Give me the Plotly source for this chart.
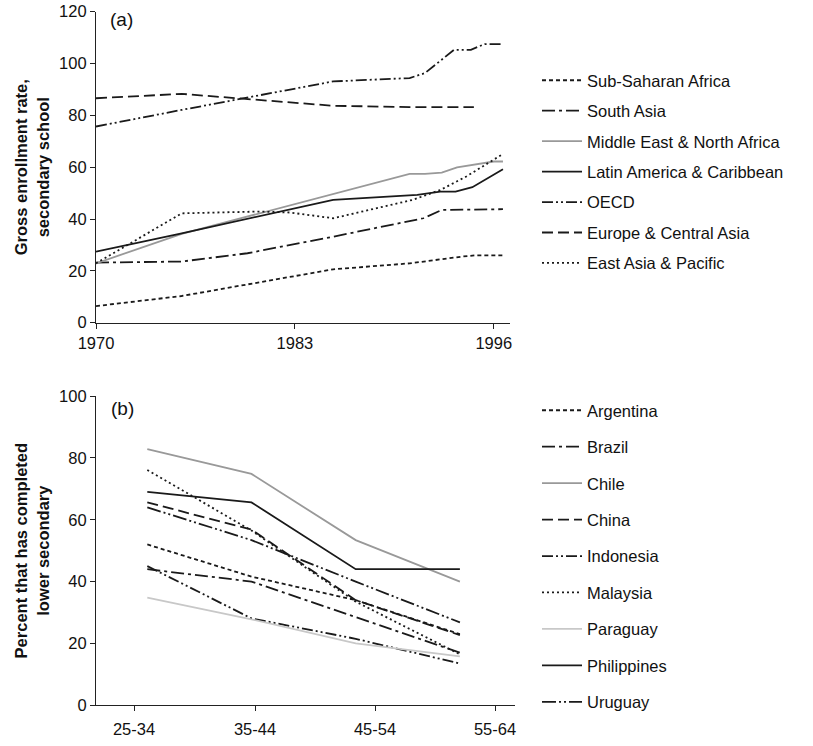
import plotly.graph_objects as go

# ---------------- Panel (a) data ----------------
regions = ["Sub-Saharan Africa", "South Asia", "Middle East & North Africa",
           "Latin America & Caribbean", "OECD", "Europe & Central Asia",
           "East Asia & Pacific"]

ssa_x = [1970, 1975.6, 1985.5, 1990.5, 1993.9, 1994.8, 1996.6]
ssa_y = [6.4, 10.3, 20.6, 22.9, 25.5, 26.0, 26.0]
sa_x = [1970, 1975.6, 1979.9, 1985.5, 1991.4, 1992.6, 1996.6]
sa_y = [23.2, 23.6, 26.8, 33.2, 40.3, 43.5, 43.8]
mena_x = [1970, 1975.6, 1990.5, 1991.5, 1992.6, 1993.6, 1996.0, 1996.6]
mena_y = [22.9, 34.3, 57.4, 57.4, 57.9, 59.9, 62.2, 62.2]
lac_x = [1970, 1975.6, 1985.5, 1991.0, 1992.5, 1993.5, 1994.6, 1996.6]
lac_y = [27.4, 34.5, 47.4, 49.3, 50.6, 50.6, 52.3, 59.2]
oecd_x = [1970, 1975.6, 1985.5, 1990.5, 1991.5, 1993.4, 1994.5, 1995.4, 1996.6]
oecd_y = [75.7, 82.1, 93.1, 94.4, 96.3, 105.3, 105.3, 107.5, 107.5]
eca_x = [1970, 1975.6, 1985.5, 1990.5, 1994.7]
eca_y = [86.6, 88.3, 83.7, 83.2, 83.2]
eap_x = [1970, 1975.6, 1980.7, 1982.7, 1985.5, 1990.7, 1992.5, 1994.2, 1996.6]
eap_y = [22.9, 42.2, 42.9, 42.5, 40.3, 47.4, 51.2, 56.4, 65.1]

top_years = [1970, 1983, 1996]

# ---------------- Panel (b) data ----------------
age_groups = ["25-34", "35-44", "45-54", "55-64"]
countries = ["Argentina", "Brazil", "Chile", "China", "Indonesia",
             "Malaysia", "Paraguay", "Philippines", "Uruguay"]
argentina = [52, 41.6, 34, 23]
brazil = [44, 40, 28.5, 17]
chile = [82.8, 74.8, 53.4, 40]
china = [65.6, 56.8, 34, 22.7]
indonesia = [45, 28.1, 21.5, 13.5]
malaysia = [76.1, 56.5, 33.5, 16.5]
paraguay = [34.8, 27.8, 20, 15.8]
philippines = [69, 65.6, 44, 44]
uruguay = [64, 53.4, 40, 26.8]

FONT = "Liberation Sans, Arial, sans-serif"
BLACK = "#1a1a1a"
GRAY = "#999999"
LIGHT = "#c8c8c8"

SHORT = "4px,3px"
LONGDASH = "11px,5px"
DASHDOT = "13px,4px,3px,4px"
DASHDOTDOT = "11px,3px,2px,3px,2px,3px"
DOT = "2px,3px"

top_series = [
    (ssa_x, ssa_y, BLACK, SHORT),
    (sa_x, sa_y, BLACK, DASHDOT),
    (mena_x, mena_y, GRAY, "solid"),
    (lac_x, lac_y, BLACK, "solid"),
    (oecd_x, oecd_y, BLACK, DASHDOTDOT),
    (eca_x, eca_y, BLACK, LONGDASH),
    (eap_x, eap_y, BLACK, DOT),
]

bottom_series = [
    (argentina, BLACK, SHORT),
    (brazil, BLACK, DASHDOT),
    (chile, GRAY, "solid"),
    (china, BLACK, LONGDASH),
    (indonesia, BLACK, DASHDOTDOT),
    (malaysia, BLACK, DOT),
    (paraguay, LIGHT, "solid"),
    (philippines, BLACK, "solid"),
    (uruguay, BLACK, "14px,3px,2px,3px,2px,3px"),
]

fig = go.Figure()

for name, (xs, ys, col, dash) in zip(regions, top_series):
    fig.add_trace(go.Scatter(
        x=xs, y=ys, mode="lines", name=name,
        line=dict(color=col, width=1.8, dash=dash),
        xaxis="x", yaxis="y", legend="legend", legendgroup=name))

age_idx = list(range(len(age_groups)))
for name, (vals, col, dash) in zip(countries, bottom_series):
    fig.add_trace(go.Scatter(
        x=age_idx, y=vals, mode="lines", name=name,
        line=dict(color=col, width=1.8, dash=dash),
        xaxis="x2", yaxis="y2", legend="legend2", legendgroup=name))

W, H = 813, 746
def px_x(p):
    return p / W
def px_y(p):
    return 1 - p / H

# bottom axis: data points sit at these pixel columns, labels at others
data_px0, data_step = 147.3, 104.2
label_px = [134, 255, 375, 495]
bx0, bx1 = 96, 515
b_range = [(bx0 - data_px0) / data_step, (bx1 - data_px0) / data_step]
b_ticks = [(p - data_px0) / data_step for p in label_px]

FS = 16.5
axis_common = dict(showline=True, linecolor="#222", linewidth=1.2,
                   ticks="outside", ticklen=5, tickcolor="#222",
                   showgrid=False, zeroline=False, automargin=False,
                   tickfont=dict(family=FONT, size=FS, color="#111"))

fig.update_layout(
    width=W, height=H,
    margin=dict(l=0, r=0, t=0, b=0, autoexpand=False),
    paper_bgcolor="white", plot_bgcolor="white",
    font=dict(family=FONT, size=FS, color="#111"),
    xaxis=dict(domain=[px_x(96), px_x(510)], range=[1970, 1997.06],
               tickvals=top_years, anchor="y", **axis_common),
    yaxis=dict(domain=[px_y(322.7), px_y(11.7)], range=[0, 120],
               tickvals=[0, 20, 40, 60, 80, 100, 120], anchor="x",
               title=dict(text="<b>Gross enrollment rate,<br>secondary school</b>",
                          font=dict(family=FONT, size=FS), standoff=5),
               **axis_common),
    xaxis2=dict(domain=[px_x(bx0), px_x(bx1)], range=b_range,
                tickvals=b_ticks, ticktext=age_groups, anchor="y2",
                ticklabelstandoff=4, **axis_common),
    yaxis2=dict(domain=[px_y(705.3), px_y(396)], range=[0, 100],
                tickvals=[0, 20, 40, 60, 80, 100], anchor="x2",
                title=dict(text="<b>Percent that has completed<br>lower secondary</b>",
                           font=dict(family=FONT, size=FS), standoff=5),
                **axis_common),
    legend=dict(x=px_x(537), y=px_y(63), xanchor="left", yanchor="top",
                tracegroupgap=6, font=dict(family=FONT, size=FS),
                bgcolor="rgba(0,0,0,0)", itemwidth=40),
    legend2=dict(x=px_x(537), y=px_y(393), xanchor="left", yanchor="top",
                 tracegroupgap=12, font=dict(family=FONT, size=FS),
                 bgcolor="rgba(0,0,0,0)", itemwidth=40),
    annotations=[
        dict(text="(a)", x=0.03, y=1.016, xref="x domain", yref="y domain",
             xanchor="left", yanchor="top", showarrow=False,
             font=dict(family=FONT, size=19)),
        dict(text="(b)", x=0.03, y=1.0, xref="x2 domain", yref="y2 domain",
             xanchor="left", yanchor="top", showarrow=False,
             font=dict(family=FONT, size=19)),
    ],
    showlegend=True,
)

fig.write_html("out.html")
